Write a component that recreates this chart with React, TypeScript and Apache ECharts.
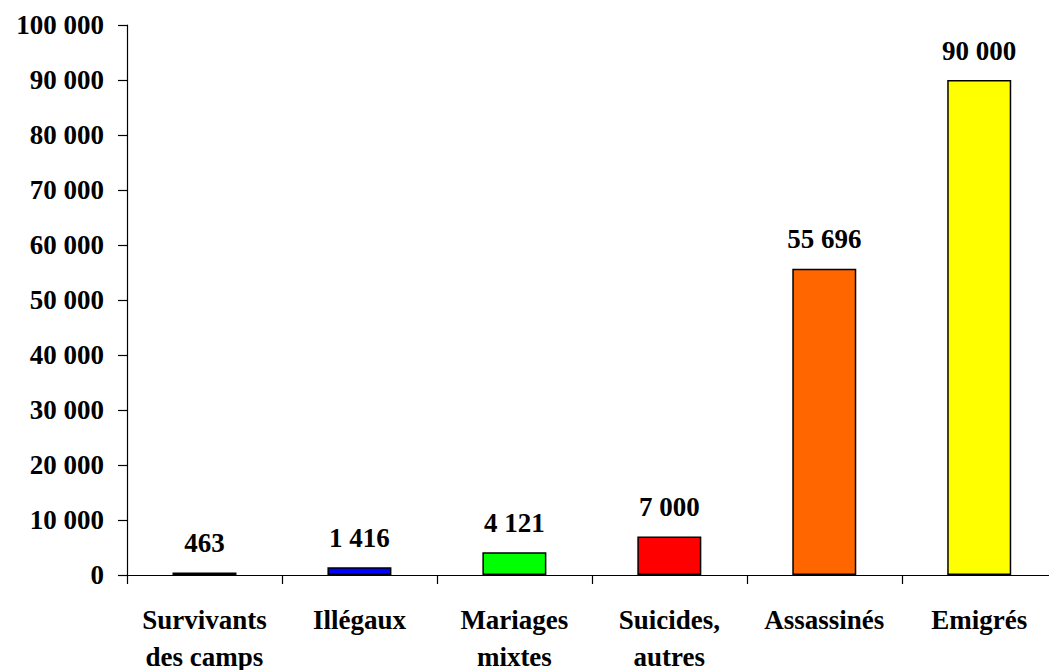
import React, { useEffect, useRef } from "react";
import * as echarts from "echarts";

const categories = [
  "Survivants\ndes camps",
  "Illégaux",
  "Mariages\nmixtes",
  "Suicides,\nautres",
  "Assassinés",
  "Emigrés",
];
const values = [463, 1416, 4121, 7000, 55696, 90000];
const barColors = ["#000000", "#0000FF", "#00FF00", "#FF0000", "#FF6600", "#FFFF00"];
const yMin = 0;
const yMax = 100000;
const yStep = 10000;

const fmt = (v: number) => String(v).replace(/\B(?=(\d{3})+(?!\d))/g, " ");

const FONT = "'Liberation Serif', 'Times New Roman', serif";

export default function App() {
  const ref = useRef<HTMLDivElement>(null);
  useEffect(() => {
    if (!ref.current) return;
    const chart = echarts.init(ref.current, null, { renderer: "svg" });
    chart.setOption({
      animation: false,
      backgroundColor: "#ffffff",
      grid: {
        left: 127,
        top: 25,
        bottom: 95,
        right: 13.3,
        containLabel: false,
        outerBoundsMode: "none",
      },
      xAxis: {
        type: "category",
        data: categories,
        axisLine: { lineStyle: { color: "#000", width: 1.2 } },
        axisTick: { show: true, length: 9, lineStyle: { color: "#000", width: 1.2 } },
        axisLabel: {
          interval: 0,
          margin: 26,
          color: "#000",
          fontFamily: FONT,
          fontWeight: "bold",
          fontSize: 27,
          lineHeight: 37,
        },
        splitLine: { show: false },
      },
      yAxis: {
        type: "value",
        min: yMin,
        max: yMax,
        interval: yStep,
        axisLine: { show: true, lineStyle: { color: "#000", width: 1.2 } },
        axisTick: { show: true, length: 9, lineStyle: { color: "#000", width: 1.2 } },
        axisLabel: {
          margin: 23,
          color: "#000",
          fontFamily: FONT,
          fontWeight: "bold",
          fontSize: 27,
          formatter: (v: number) => fmt(v),
        },
        splitLine: { show: false },
      },
      series: [
        {
          type: "bar",
          data: values.map((v, i) => ({
            value: v,
            itemStyle: { color: barColors[i] },
          })),
          barWidth: 64,
          itemStyle: { borderColor: "#000", borderWidth: 1.5 },
          label: {
            show: true,
            position: "top",
            distance: 16,
            color: "#000",
            fontFamily: FONT,
            fontWeight: "bold",
            fontSize: 27,
            formatter: (p: any) => fmt(p.value),
          },
        },
      ],
    });
    return () => chart.dispose();
  }, []);
  return (
    <div style={{ position: "fixed", left: 0, top: 0, width: 1049, height: 670, overflow: "hidden", background: "#fff" }}>
      <div ref={ref} style={{ width: 1070, height: 670 }} />
    </div>
  );
}
